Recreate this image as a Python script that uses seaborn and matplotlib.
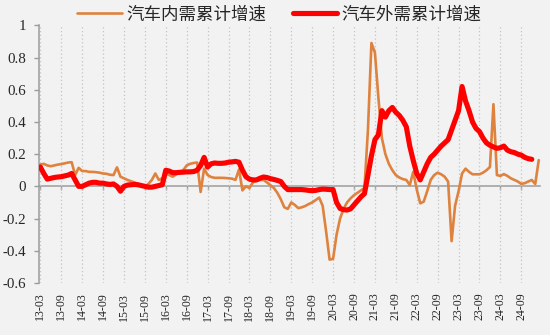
import pandas as pd
import matplotlib
matplotlib.use("Agg")
import matplotlib.pyplot as plt
import seaborn as sns
from matplotlib.ticker import FuncFormatter, FixedLocator

# Monthly cumulative growth, starting 2013-03
domestic_label = "汽车内需累计增速"
overseas_label = "汽车外需累计增速"

domestic = [
    0.135, 0.14, 0.13, 0.125, 0.13, 0.135, 0.138, 0.143, 0.148, 0.15,
    0.07, 0.115, 0.095, 0.095, 0.09, 0.09, 0.088, 0.085, 0.08, 0.078, 0.072, 0.07,
    0.118, 0.06, 0.05, 0.04, 0.032, 0.025, 0.015, 0.005, 0.0, 0.015, 0.04, 0.08,
    0.04, 0.05, 0.08, 0.07, 0.06, 0.075, 0.09, 0.1, 0.13, 0.14, 0.145, 0.148,
    -0.035, 0.11, 0.07, 0.058, 0.053, 0.053, 0.053, 0.052, 0.05, 0.048, 0.04, 0.105,
    -0.025, 0.0, -0.01, 0.025, 0.035, 0.04, 0.04, 0.025, 0.008, -0.01, -0.04, -0.08,
    -0.13, -0.14, -0.1, -0.115, -0.135, -0.13, -0.122, -0.11, -0.1, -0.085, -0.07, -0.12,
    -0.28, -0.455, -0.45, -0.3, -0.2, -0.14, -0.1, -0.075, -0.055, -0.04, -0.025, -0.01,
    0.35, 0.89, 0.83, 0.55, 0.3, 0.2, 0.14, 0.1, 0.07, 0.055, 0.045, 0.04,
    0.008, 0.09, -0.02, -0.105, -0.095, -0.03, 0.04, 0.07, 0.085, 0.075, 0.06, 0.03,
    -0.34, -0.12, -0.03, 0.08, 0.11, 0.09, 0.075, 0.075, 0.075, 0.085, 0.1, 0.12,
    0.51, 0.07, 0.065, 0.076, 0.065, 0.05, 0.04, 0.03, 0.015, 0.02, 0.03, 0.04, 0.015, 0.163,
]

overseas = [
    0.12, 0.08, 0.045, 0.05, 0.055, 0.058, 0.06, 0.065, 0.07, 0.08,
    0.04, 0.0, 0.0, 0.01, 0.02, 0.025, 0.025, 0.02, 0.02, 0.015, 0.012, 0.015,
    0.0, -0.03, 0.0, 0.008, 0.01, 0.012, 0.01, 0.005, 0.0, -0.005, -0.005, 0.0,
    0.005, 0.01, 0.1, 0.095, 0.085, 0.085, 0.087, 0.088, 0.09, 0.09, 0.092, 0.1,
    0.13, 0.18, 0.12, 0.14, 0.145, 0.143, 0.143, 0.145, 0.15, 0.152, 0.155, 0.15,
    0.1, 0.06, 0.045, 0.04, 0.04, 0.05, 0.058, 0.055, 0.048, 0.043, 0.037, 0.03,
    0.0, -0.02, -0.02, -0.02, -0.02, -0.02, -0.022, -0.025, -0.027, -0.025, -0.02, -0.017,
    -0.018, -0.02, -0.02, -0.1, -0.137, -0.145, -0.147, -0.14, -0.115, -0.09, -0.065, -0.045,
    0.07, 0.19, 0.29, 0.32, 0.47, 0.43, 0.47, 0.49, 0.46, 0.44, 0.41, 0.37,
    0.25, 0.16, 0.08, 0.04, 0.09, 0.14, 0.18, 0.2, 0.225, 0.25, 0.27, 0.29,
    0.35, 0.41, 0.47, 0.62, 0.53, 0.47, 0.4, 0.36, 0.34, 0.3, 0.27, 0.255,
    0.245, 0.236, 0.24, 0.25, 0.225, 0.215, 0.21, 0.2, 0.194, 0.18, 0.172, 0.168,
]

tick_labels = [
    "13-03", "13-09", "14-03", "14-09", "15-03", "15-09", "16-03", "16-09",
    "17-03", "17-09", "18-03", "18-09", "19-03", "19-09", "20-03", "20-09",
    "21-03", "21-09", "22-03", "22-09", "23-03", "23-09", "24-03", "24-09",
]

df_dom = pd.DataFrame({"idx": range(len(domestic)), "value": domestic})
df_ovs = pd.DataFrame({"idx": range(len(overseas)), "value": overseas})

sns.set_theme(style="white")
plt.rcParams["font.family"] = ["Liberation Serif", "DejaVu Sans"]
plt.rcParams["lines.solid_joinstyle"] = "round"
plt.rcParams["lines.solid_capstyle"] = "round"

bg = "#f2f2f2"
axis_grey = "#9c9c9c"

fig = plt.figure(figsize=(5.5, 3.35), dpi=100, facecolor=bg)
ax = fig.add_axes([0.0701, 0.1552, 0.9126, 0.7693], facecolor=bg)

sns.lineplot(data=df_dom, x="idx", y="value", ax=ax, color="#DE823E",
             linewidth=1.9, label=domestic_label, zorder=3)
sns.lineplot(data=df_ovs, x="idx", y="value", ax=ax, color="#FF0000",
             linewidth=3.7, label=overseas_label, zorder=4)

tick_pos = [i * 6 for i in range(len(tick_labels))]
ax.set_xlim(-0.5, 143.5)
ax.set_ylim(-0.6, 1.0)
ax.set_xlabel("")
ax.set_ylabel("")

ax.xaxis.set_major_locator(FixedLocator(tick_pos))
ax.set_xticklabels(tick_labels, rotation=90, fontsize=8.6)
ax.tick_params(axis="x", length=0, pad=7)
ax.grid(axis="x", linestyle=(0, (1, 2)), color="#c4c4c4", linewidth=0.9)
ax.grid(axis="y", visible=False)

ax.set_yticks([-0.6, -0.4, -0.2, 0, 0.2, 0.4, 0.6, 0.8, 1.0])
ax.yaxis.set_major_formatter(FuncFormatter(lambda v, _: f"{v:g}" if abs(v) > 1e-9 else "0"))
ax.tick_params(axis="y", direction="out", length=3.3, width=1, color=axis_grey,
               labelsize=10.8, pad=5.5, left=True)

for side in ("top", "right", "bottom"):
    ax.spines[side].set_visible(False)
ax.spines["left"].set_color(axis_grey)
ax.spines["left"].set_linewidth(1.1)

# Horizontal axis line at zero with tick marks
zero_axis = ax.secondary_xaxis(0.6 / 1.6)
zero_axis.set_xticks(tick_pos)
zero_axis.set_xticklabels([])
zero_axis.tick_params(axis="x", direction="out", length=3, width=1, color=axis_grey)
zero_axis.spines["bottom"].set_color(axis_grey)
zero_axis.spines["bottom"].set_linewidth(1.1)

ax.get_legend().remove()
handles, labels = ax.get_legend_handles_labels()
fig.legend(handles, labels, loc="center", bbox_to_anchor=(0.508, 0.957), ncol=2,
           frameon=False, handlelength=2.55, handletextpad=0.25, columnspacing=1.5,
           prop={"family": ["Noto Sans CJK SC", "DejaVu Sans"], "size": 12.6})

fig.savefig("out.png", dpi=100, facecolor=bg)
